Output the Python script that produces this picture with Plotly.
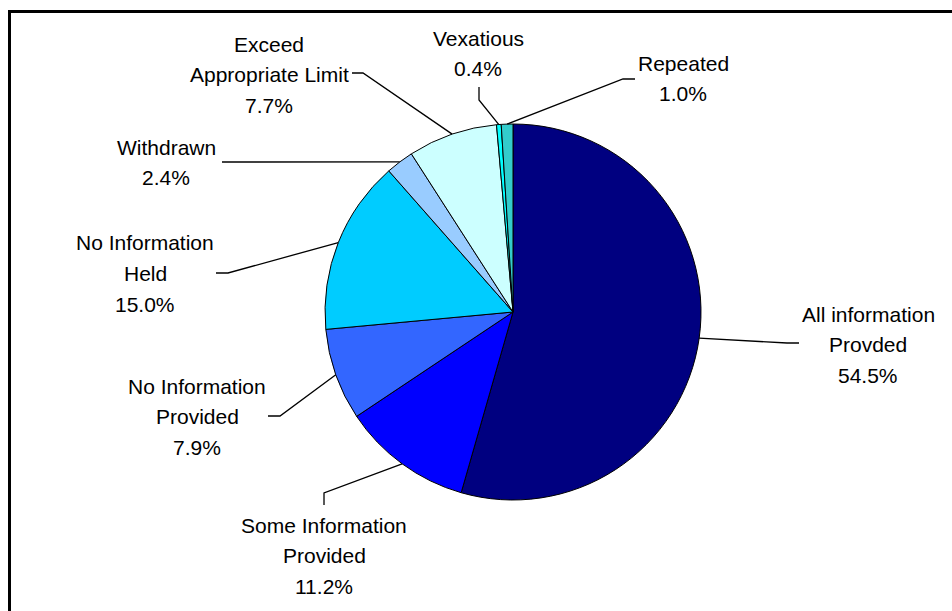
import math
import plotly.graph_objects as go

# Request outcomes (share of all requests, %)
categories = [
    "All information Provded",
    "Some Information Provided",
    "No Information Provided",
    "No Information Held",
    "Withdrawn",
    "Exceed Appropriate Limit",
    "Vexatious",
    "Repeated",
]
values = [54.5, 11.2, 7.9, 15.0, 2.4, 7.7, 0.4, 1.0]
label_lines = [
    ["All information", "Provded"],
    ["Some Information", "Provided"],
    ["No Information", "Provided"],
    ["No Information", "Held"],
    ["Withdrawn"],
    ["Exceed", "Appropriate Limit"],
    ["Vexatious"],
    ["Repeated"],
]
colors = ["#000080", "#0000FF", "#3366FF", "#00CCFF",
          "#99CCFF", "#CCFFFF", "#00FFFF", "#33CCCC"]

W, H = 952, 611
CX, CY, R = 513, 312, 188          # pie centre / radius in pixels
FONT = dict(family="Liberation Sans, Arial, sans-serif", size=21, color="black")
LINE_GAP = 30.5

# label block: centre x, centre y of first line, leader path (elbow points, label side first)
label_layout = [
    dict(x=868, y=314, elbow=[(799, 343), (787, 343)]),
    dict(x=324, y=525, elbow=[(324, 505), (324, 493)]),
    dict(x=197, y=386, elbow=[(268, 416), (280, 416)]),
    dict(x=145, y=243, elbow=[(216, 273), (228, 273)]),
    dict(x=166, y=147, elbow=[(222, 162)]),
    dict(x=269, y=44, elbow=[(352, 73), (363, 73)]),
    dict(x=478, y=38, elbow=[(479, 87), (479, 100)]),
    dict(x=683, y=63, elbow=[(635, 79), (623, 79)]),
]


def px(x):
    return x / W


def py(y):
    return 1 - y / H


fig = go.Figure(go.Pie(
    labels=categories,
    values=values,
    sort=False,
    direction="clockwise",
    rotation=0,
    marker=dict(colors=colors, line=dict(color="black", width=1)),
    textinfo="none",
    hoverinfo="label+percent",
    domain=dict(x=[px(CX - R), px(CX + R)], y=[py(CY + R), py(CY - R)]),
    showlegend=False,
))

total = sum(values)
shapes = []
annotations = []
cum = 0.0
for name, val, lines, lay in zip(categories, values, label_lines, label_layout):
    mid = (cum + val / 2) / total * 2 * math.pi
    cum += val
    ex = CX + R * math.sin(mid)
    ey = CY - R * math.cos(mid)
    pts = lay["elbow"] + [(ex, ey)]
    path = "M " + " L ".join(f"{px(a):.5f},{py(b):.5f}" for a, b in pts)
    shapes.append(dict(type="path", xref="paper", yref="paper", path=path,
                       line=dict(color="black", width=1.3)))
    texts = lines + [f"{val:.1f}%"]
    for i, t in enumerate(texts):
        annotations.append(dict(
            x=px(lay["x"]), y=py(lay["y"] + i * LINE_GAP),
            xref="paper", yref="paper", text=t, showarrow=False,
            xanchor="center", yanchor="middle", font=FONT,
        ))

# chart-area frame (runs off the right and bottom edges)
shapes.append(dict(type="rect", xref="paper", yref="paper",
                   x0=px(9.5), y0=py(640), x1=px(990), y1=py(11.5),
                   line=dict(color="black", width=3), fillcolor="rgba(0,0,0,0)"))

fig.update_layout(
    width=W, height=H,
    margin=dict(l=0, r=0, t=0, b=0),
    paper_bgcolor="white",
    plot_bgcolor="white",
    shapes=shapes,
    annotations=annotations,
)

fig.write_html("out.html")
